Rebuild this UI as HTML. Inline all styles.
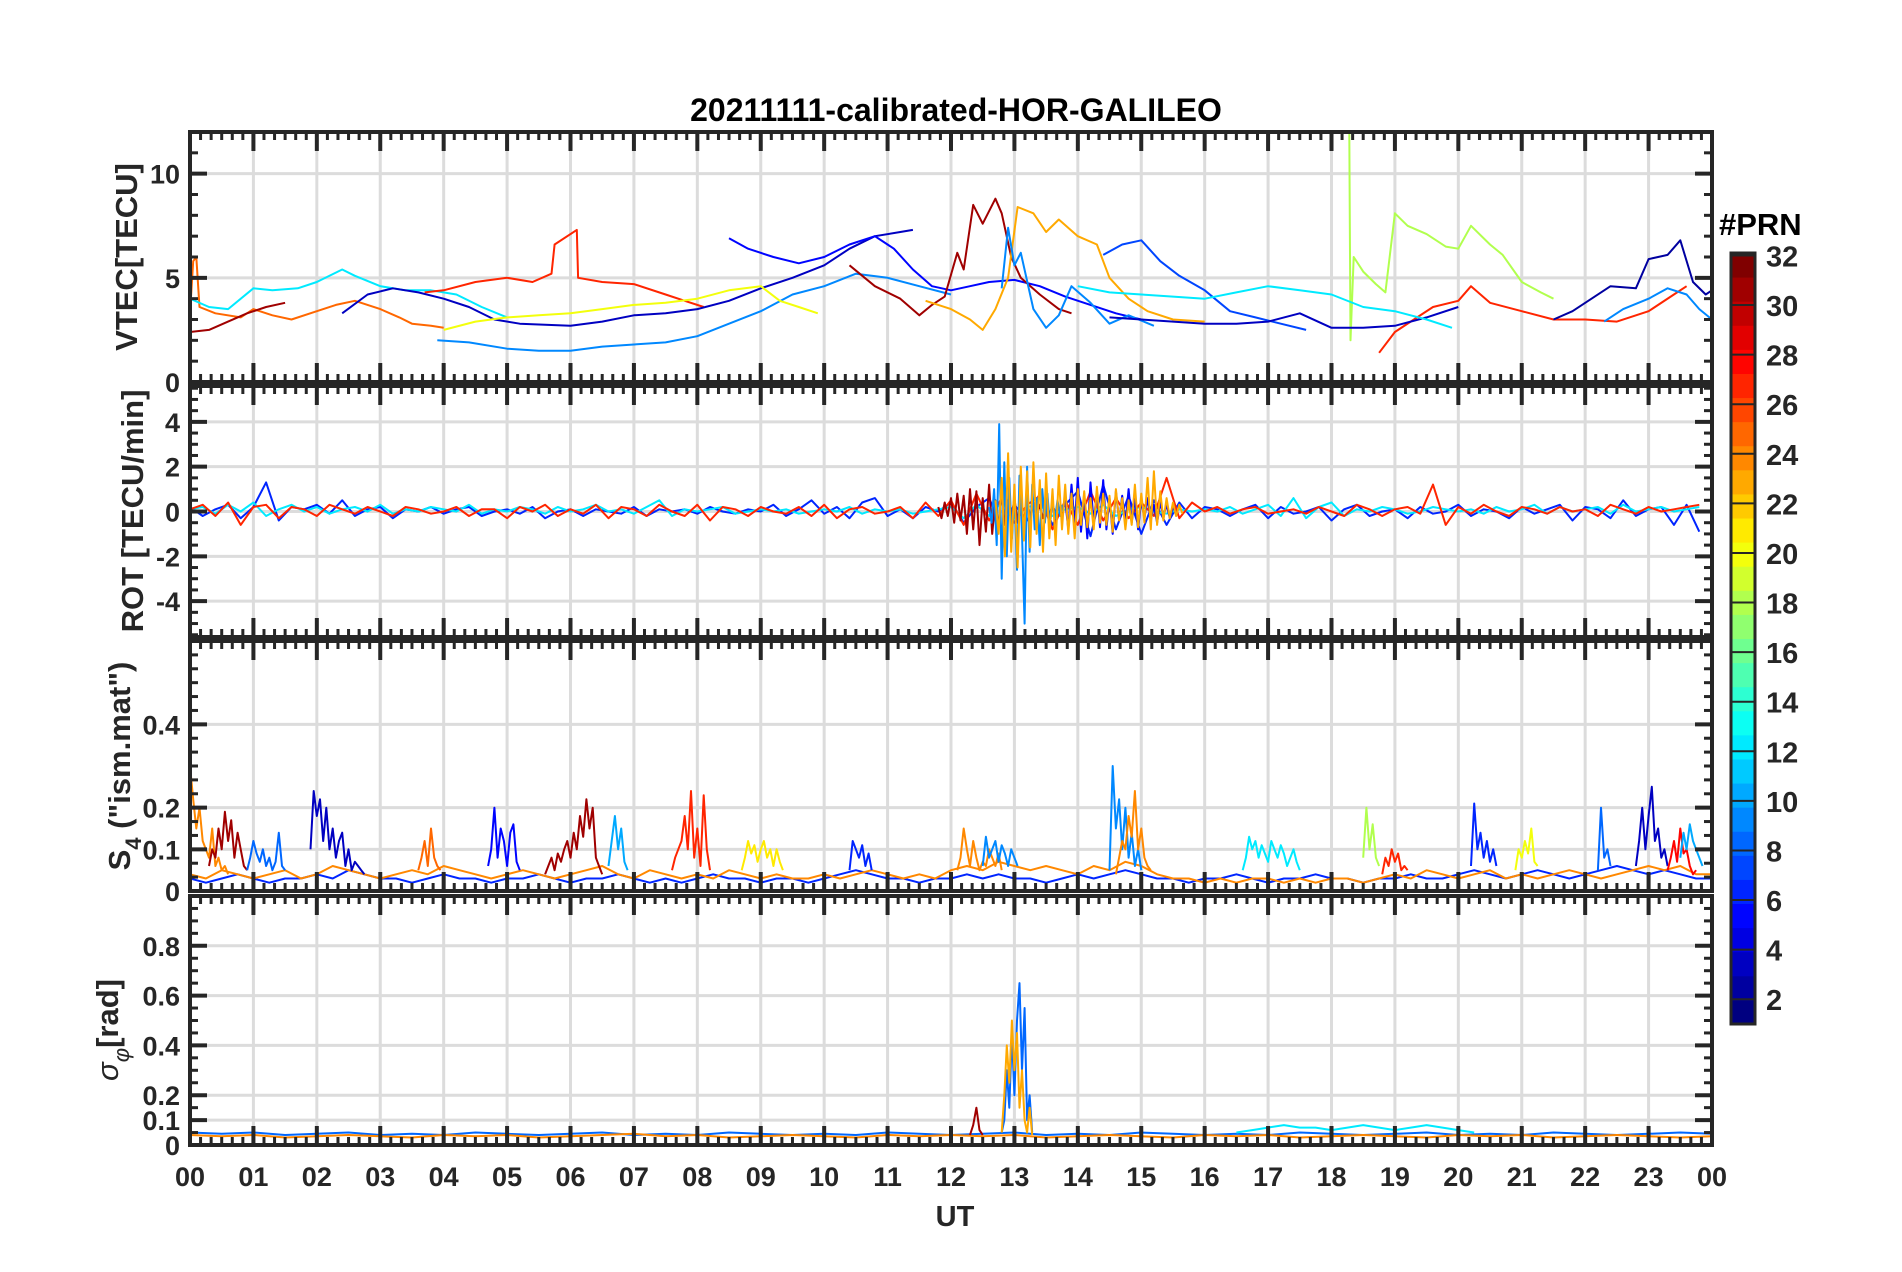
<!DOCTYPE html>
<html><head><meta charset="utf-8"><style>
html,body{margin:0;padding:0;background:#fff;}
svg{display:block;font-family:"Liberation Sans",sans-serif;}
</style></head><body>
<svg id="fig" width="1902" height="1272" viewBox="0 0 1902 1272" xmlns="http://www.w3.org/2000/svg">
<rect width="1902" height="1272" fill="#fff"/>
<text x="956" y="121" text-anchor="middle" font-size="32" font-weight="bold" fill="#000">20211111-calibrated-HOR-GALILEO</text>
<g id="layers"></g>
<text transform="translate(137,257) rotate(-90)" text-anchor="middle" font-size="31" font-weight="bold" fill="#262626">VTEC[TECU]</text>
<text transform="translate(143,511) rotate(-90)" text-anchor="middle" font-size="31" font-weight="bold" fill="#262626">ROT [TECU/min]</text>
<text transform="translate(130,766) rotate(-90)" text-anchor="middle" font-size="31" font-weight="bold" fill="#262626">S<tspan font-size="22" dy="11">4</tspan><tspan dy="-11"> ("ism.mat")</tspan></text>
<text transform="translate(118,1030) rotate(-90)" text-anchor="middle" font-size="31" font-weight="bold" fill="#262626"><tspan font-style="italic" font-weight="normal">σ</tspan><tspan font-size="22" font-style="italic" font-weight="normal" dy="11">φ</tspan><tspan dy="-11">[rad]</tspan></text>
<text x="955" y="1226" text-anchor="middle" font-size="29" font-weight="bold" fill="#262626">UT</text>
<text x="1719" y="235" font-size="31" font-weight="bold" fill="#000">#PRN</text>
</svg>
<script>
// ---- VTEC data: [hour, TECU] ----
const vtecA = [[0,3.3],[0.05,5.8],[0.1,6],[0.15,3.6],[0.4,3.3],[0.8,3.1],[1,3.5],[1.3,3.2],[1.6,3.0],[2,3.4],[2.3,3.7],[2.6,3.9],[3,3.5],[3.3,3.1],[3.5,2.8],[3.8,2.7],[4,2.6]];
const vtecB = [[0,4],[0.3,3.6],[0.6,3.5],[1,4.5],[1.3,4.4],[1.7,4.5],[2,4.8],[2.4,5.4],[2.6,5.1],[3,4.6],[3.4,4.4],[3.8,4.4],[4.2,4.2],[4.6,3.6],[5,3.1]];
const vtecC = [[0,2.4],[0.3,2.5],[0.6,2.9],[0.9,3.3],[1.2,3.6],[1.5,3.8]];
const vtecD = [[3.7,4.3],[4,4.4],[4.5,4.8],[5,5.0],[5.4,4.8],[5.7,5.2],[5.75,6.6],[6.1,7.3],[6.12,5.0],[6.5,4.8],[7,4.7],[7.5,4.2],[7.8,3.9],[8.1,3.6]];
const vtecE = [[2.4,3.3],[2.8,4.2],[3.2,4.5],[3.6,4.3],[4,4.0],[4.4,3.6],[4.8,3.0],[5.2,2.8],[6,2.7],[6.5,2.9],[7,3.2],[7.5,3.3],[8,3.5],[8.5,3.9],[9,4.5],[9.5,5.0],[10,5.6],[10.4,6.4],[10.8,7.0],[11.2,7.2],[11.4,7.3]];
const vtecF = [[3.9,2.0],[4.4,1.9],[5,1.6],[5.5,1.5],[6,1.5],[6.5,1.7],[7,1.8],[7.5,1.9],[8,2.2],[8.5,2.8],[9,3.4],[9.5,4.2],[10,4.6],[10.5,5.2],[11,5.0],[11.5,4.6],[12,4.2]];
const vtecG = [[4,2.5],[4.5,2.9],[5,3.1],[5.5,3.2],[6,3.3],[6.5,3.5],[7,3.7],[7.5,3.8],[8,4.0],[8.5,4.4],[9,4.6],[9.3,3.9],[9.6,3.6],[9.9,3.3]];
const vtecH = [[8.5,6.9],[8.8,6.4],[9.2,6.0],[9.6,5.7],[10,6.0],[10.4,6.6],[10.8,7.0],[11.1,6.4],[11.4,5.4],[11.7,4.6],[12,4.4],[12.3,4.6],[12.6,4.8],[13,4.9],[13.4,4.6],[13.8,4.1],[14.2,3.7],[14.6,3.3],[15,3.0]];
const vtecI = [[10.4,5.6],[10.8,4.6],[11.2,4.0],[11.5,3.2],[11.7,3.7],[11.9,4.1],[12.1,6.2],[12.2,5.4],[12.35,8.5],[12.5,7.6],[12.7,8.8],[12.8,8.1],[12.95,6.0],[13.1,5.0],[13.4,4.2],[13.7,3.5],[13.9,3.3]];
const vtecJ = [[11.6,3.9],[12,3.5],[12.3,3.0],[12.5,2.5],[12.7,3.5],[12.9,5.0],[13.05,8.4],[13.3,8.1],[13.5,7.2],[13.7,7.8],[14,7.0],[14.3,6.6],[14.5,5.0],[14.8,4.0],[15.1,3.4],[15.5,3.0],[16,2.9]];
const vtecK = [[12.8,4.5],[12.9,7.4],[13,5.6],[13.1,6.2],[13.3,3.5],[13.5,2.6],[13.7,3.2],[13.9,4.6],[14.2,3.8],[14.5,2.8],[14.8,3.2],[15.2,2.7]];
const vtecL = [[14.4,6.1],[14.7,6.6],[15,6.8],[15.3,5.8],[15.6,5.1],[16,4.4],[16.4,3.4],[16.8,3.1],[17.2,2.8],[17.6,2.5]];
const vtecM = [[18.28,12],[18.3,2.0],[18.35,6.0],[18.5,5.3],[18.7,4.7],[18.85,4.3],[19,8.1],[19.2,7.5],[19.5,7.1],[19.8,6.5],[20,6.4],[20.2,7.5],[20.5,6.6],[20.7,6.1],[21,4.8],[21.3,4.3],[21.5,4.0]];
const vtecN = [[18.75,1.4],[19,2.4],[19.3,3.0],[19.6,3.6],[20,3.9],[20.2,4.6],[20.5,3.8],[21,3.4],[21.5,3.0],[22,3.0],[22.5,2.9],[23,3.4],[23.4,4.2],[23.6,4.6]];
const vtecO = [[21.5,3.0],[21.8,3.4],[22.1,4.0],[22.4,4.6],[22.8,4.5],[23,5.9],[23.3,6.1],[23.5,6.8],[23.7,4.8],[23.9,4.2],[24,4.4]];
const vtecP = [[22.3,2.9],[22.6,3.5],[23,4.0],[23.3,4.5],[23.6,4.2],[23.8,3.5],[24,3.0]];
const vtecQ = [[14.5,3.1],[15,3.0],[15.5,2.9],[16,2.8],[16.5,2.8],[17,2.9],[17.5,3.3],[18,2.6],[18.5,2.6],[19,2.7],[19.5,3.1],[20,3.6]];
const vtecR = [[14,4.6],[14.5,4.3],[15,4.2],[15.5,4.1],[16,4.0],[16.5,4.3],[17,4.6],[17.5,4.4],[18,4.2],[18.5,3.6],[19,3.4],[19.5,3.0],[19.9,2.6]];
const vtecSeries = [vtecA,vtecB,vtecC,vtecD,vtecE,vtecF,vtecG,vtecH,vtecI,vtecJ,vtecK,vtecL,vtecM,vtecN,vtecO,vtecP,vtecQ,vtecR];
const vtecPrn = [25,12,31,27,3,9,20,5,31,23,9,7,18,27,2,9,3,12];

// ---- ROT data: start hour, step, values ----
const rotRed = [0.1,0.3,-0.2,0.4,-0.6,0.2,0.3,-0.3,0.2,0.1,-0.2,0.3,0.1,-0.1,0.2,0.0,-0.2,0.2,0.1,-0.1,0.0,0.2,-0.2,0.1,0.1,-0.3,0.2,0.0,0.3,-0.2,0.1,-0.1,0.3,-0.3,0.2,0.1,-0.2,0.3,0.0,-0.2,0.3,-0.4,0.2,0.1,-0.2,0.2,0.0,-0.1,0.2,-0.2,0.3,-0.3,0.1,0.2,-0.1,0.0,0.2,-0.3,0.4,-0.2,0.5,-0.6,0.8,-0.4,0.6,-0.5,0.3,0.7,-0.8,0.5,-0.6,0.9,-0.4,0.6,-0.3,0.4,-0.2,1.5,-0.3,0.4,0.0,0.2,-0.1,0.1,0.2,-0.1,0.0,0.1,-0.1,0.2,0.0,-0.2,0.3,0.1,-0.2,0.1,0.2,-0.1,1.2,-0.6,0.2,-0.1,0.3,0.0,-0.2,0.2,0.1,-0.1,0.2,0.0,0.1,-0.2,0.3,0.1,-0.1,0.2,0.0,0.1,0.2,0.3];
const rotBlue = [0.2,-0.2,0.1,0.3,-0.3,0.2,1.3,-0.4,0.2,0.1,0.3,-0.1,0.5,-0.2,0.1,0.2,-0.3,0.1,0.0,0.2,-0.1,0.1,0.2,-0.2,0.0,0.1,-0.1,0.2,-0.3,0.0,0.1,-0.2,0.1,0.0,-0.1,0.2,-0.2,0.1,0.0,0.1,-0.1,0.2,0.0,-0.1,0.1,0.0,0.3,-0.2,0.1,0.5,-0.1,0.2,-0.3,0.4,0.6,-0.2,0.1,-0.3,0.2,0.0,0.4,-0.5,0.2,0.6,-0.7,0.3,-0.4,0.8,-0.6,0.3,0.9,-1.1,1.2,-0.8,0.7,-1.0,0.5,-0.6,0.4,-0.3,0.2,0.1,-0.2,0.1,0.3,-0.3,0.2,-0.1,0.0,0.2,-0.4,0.1,0.3,-0.2,0.0,0.1,-0.3,0.2,-0.1,0.0,0.3,-0.2,0.1,0.0,-0.3,0.2,-0.1,0.1,0.3,-0.4,0.2,0.1,-0.3,0.5,-0.2,0.1,0.2,-0.6,0.3,-0.9];
const rotCyan = [0.1,0.2,-0.1,0.3,0.0,0.4,-0.2,0.1,0.3,0.0,0.2,-0.1,0.1,0.2,0.0,0.3,-0.1,0.1,0.0,0.2,0.1,0.0,0.3,-0.1,0.1,0.0,0.2,0.1,-0.1,0.2,0.0,0.1,0.3,0.0,0.1,-0.1,0.2,0.5,-0.2,0.1,0.0,0.1,0.2,-0.1,0.0,0.1,0.0,0.1,-0.1,0.0,0.1,0.0,0.2,-0.1,0.1,0.0,0.1,-0.1,0.0,0.1,0.2,-0.3,0.3,-0.2,0.4,-0.3,0.2,0.3,-0.2,0.1,0.2,-0.1,0.3,-0.2,0.1,0.2,0.0,-0.1,0.1,0.0,0.1,0.0,0.2,-0.1,0.1,0.3,-0.2,0.6,-0.3,0.2,0.4,-0.2,0.1,0.0,0.2,0.1,-0.1,0.0,0.2,0.1,0.0,0.1,-0.1,0.2,0.0,0.1,0.3,-0.1,0.2,0.0,0.1,0.2,-0.1,0.3,0.0,0.1,0.2,0.0,0.1,0.2];
const rotLightBlue = [0.2,-0.5,1.0,-1.5,3.9,-3.0,2.2,-2.0,1.5,-1.2,0.8,-2.6,1.6,-1.0,-5.0,2.0,-1.8,1.2,-0.8,0.6,-1.5,1.0,-0.5,0.8,-0.6,0.4,-0.3,0.5,-0.2,0.3];
const rotOrange = [0.5,-1.0,1.5,-2.0,2.6,-1.8,1.2,-2.5,2.0,-1.3,1.8,-1.6,2.2,-1.0,1.4,-1.8,1.7,-1.2,1.0,-1.5,1.6,-0.8,1.2,-1.0,0.8,-1.2,1.0,-0.6,0.9,-0.7,0.6,-0.8,1.1,-0.5,0.8,-0.6,0.7,-0.9,1.0,-0.4,0.6,-0.8,0.5,-0.6,1.2,-0.7,0.8,-0.5,1.5,-0.8,1.8,-0.6,0.9,-0.4,0.6,-0.3,0.4,-0.2,0.3,-0.1];
const rotDarkRed = [0.2,-0.3,0.4,-0.2,0.6,-0.5,0.8,-0.4,0.7,-1.0,1.0,-0.8,0.9,-1.5,0.6,-0.9,1.2,-1.0,0.5,-0.7,0.8,-0.6,0.5,-0.4,0.6,-0.5,0.3,-0.4,0.5,-0.3,0.4,-0.2,0.3,-0.3,0.2,-0.2,0.3,-0.1,0.2,-0.1];
const rotBlue5 = [0.5,-0.8,1.2,-0.6,1.5,-0.9,0.8,-1.2,1.3,-0.5,0.9,-0.7,1.4,-0.8,0.6,-1.0,0.9,-0.4,0.7,-0.6,1.0,-0.5,0.6,-0.8,0.5,-0.3,0.6,-0.4,0.3,-0.5,0.4,-0.2,0.3,-0.3,0.2,-0.1];
const rotSeries = [rotBlue,rotCyan,rotRed,rotBlue5,rotDarkRed,rotLightBlue,rotOrange];
const rotPrn = [6,12,27,5,31,9,23];
const rotStart = [0,0,0,13.8,11.8,12.6,12.7];
const rotStep = [0.2,0.2,0.2,0.05,0.05,0.04,0.05];

// ---- S4 data ----
const s4BgOrange = [0.04,0.03,0.05,0.04,0.03,0.04,0.05,0.03,0.04,0.06,0.05,0.04,0.03,0.04,0.05,0.04,0.06,0.05,0.04,0.03,0.04,0.05,0.04,0.03,0.04,0.05,0.06,0.04,0.03,0.05,0.04,0.03,0.04,0.03,0.05,0.04,0.03,0.04,0.03,0.03,0.04,0.03,0.04,0.05,0.04,0.03,0.04,0.03,0.05,0.06,0.05,0.07,0.06,0.05,0.06,0.05,0.04,0.06,0.05,0.07,0.06,0.04,0.03,0.03,0.02,0.03,0.02,0.03,0.03,0.02,0.03,0.02,0.03,0.03,0.02,0.03,0.04,0.03,0.05,0.04,0.03,0.04,0.05,0.03,0.04,0.03,0.04,0.05,0.04,0.03,0.04,0.05,0.06,0.05,0.06,0.04,0.04];
const s4BgBlue = [0.03,0.02,0.03,0.04,0.03,0.02,0.03,0.03,0.04,0.03,0.05,0.04,0.03,0.03,0.02,0.03,0.04,0.03,0.03,0.02,0.03,0.03,0.04,0.03,0.02,0.03,0.03,0.04,0.03,0.02,0.03,0.02,0.03,0.04,0.03,0.03,0.02,0.03,0.03,0.02,0.03,0.04,0.05,0.04,0.03,0.03,0.02,0.03,0.03,0.04,0.03,0.04,0.03,0.03,0.02,0.03,0.04,0.03,0.04,0.05,0.04,0.03,0.03,0.02,0.03,0.03,0.04,0.03,0.02,0.03,0.03,0.04,0.03,0.03,0.02,0.03,0.03,0.04,0.03,0.03,0.04,0.05,0.04,0.03,0.04,0.05,0.04,0.03,0.04,0.05,0.06,0.05,0.04,0.05,0.04,0.03,0.03];
const s4Burst1 = [0.3,0.22,0.15,0.2,0.12,0.1,0.08,0.15,0.06,0.08,0.05,0.06,0.04];
const s4Burst2 = [0.06,0.1,0.08,0.15,0.1,0.19,0.12,0.17,0.08,0.14,0.1,0.06,0.05];
const s4Burst3 = [0.05,0.08,0.12,0.09,0.07,0.1,0.06,0.08,0.05,0.07,0.14,0.06,0.05];
const s4Burst4 = [0.1,0.24,0.18,0.22,0.12,0.2,0.1,0.15,0.08,0.12,0.14,0.06,0.1,0.05,0.07,0.06,0.05,0.04];
const s4Burst5 = [0.05,0.08,0.12,0.06,0.15,0.08,0.06,0.05];
const s4Burst6 = [0.06,0.1,0.2,0.08,0.15,0.12,0.06,0.14,0.16,0.07,0.05];
const s4Burst7 = [0.04,0.06,0.08,0.05,0.09,0.07,0.1,0.12,0.08,0.14,0.1,0.18,0.13,0.22,0.15,0.2,0.08,0.06,0.04];
const s4Burst8 = [0.06,0.12,0.18,0.1,0.15,0.07,0.05];
const s4Burst9 = [0.05,0.08,0.1,0.12,0.18,0.1,0.24,0.08,0.15,0.06,0.23,0.1,0.05];
const s4Burst10 = [0.05,0.08,0.12,0.09,0.11,0.07,0.1,0.12,0.08,0.1,0.06,0.1,0.07,0.05];
const s4Burst11 = [0.05,0.12,0.1,0.08,0.11,0.06,0.09,0.05];
const s4Burst12 = [0.05,0.08,0.15,0.1,0.06,0.12,0.08,0.05,0.07,0.06,0.1,0.08,0.06,0.09,0.05];
const s4Burst13 = [0.06,0.13,0.08,0.1,0.12,0.07,0.11,0.09,0.06,0.1,0.08,0.06];
const s4Burst14 = [0.05,0.3,0.15,0.22,0.1,0.2,0.08,0.14,0.06,0.1,0.05];
const s4Burst15 = [0.04,0.08,0.12,0.1,0.18,0.13,0.24,0.1,0.15,0.08,0.06,0.05];
const s4Burst16 = [0.05,0.08,0.13,0.1,0.12,0.08,0.11,0.09,0.07,0.12,0.1,0.08,0.11,0.09,0.06,0.08,0.1,0.07,0.05];
const s4Burst17 = [0.08,0.2,0.1,0.16,0.08,0.06];
const s4Burst18 = [0.04,0.08,0.06,0.1,0.07,0.09,0.05,0.06,0.05];
const s4Burst19 = [0.06,0.21,0.1,0.14,0.08,0.12,0.07,0.1,0.06];
const s4Burst20 = [0.05,0.1,0.08,0.12,0.09,0.15,0.07,0.06];
const s4Burst21 = [0.05,0.2,0.08,0.1,0.06];
const s4Burst22 = [0.06,0.12,0.2,0.1,0.18,0.25,0.12,0.15,0.08,0.1,0.06];
const s4Burst23 = [0.05,0.08,0.12,0.07,0.15,0.09,0.1,0.06,0.04,0.05];
const s4Burst24 = [0.08,0.14,0.1,0.16,0.12,0.1,0.08,0.06];
const s4Series = [s4BgBlue,s4BgOrange,s4Burst1,s4Burst2,s4Burst3,s4Burst4,s4Burst5,s4Burst6,s4Burst7,s4Burst8,s4Burst9,s4Burst10,s4Burst11,s4Burst12,s4Burst13,s4Burst14,s4Burst15,s4Burst16,s4Burst17,s4Burst18,s4Burst19,s4Burst20,s4Burst21,s4Burst22,s4Burst23,s4Burst24];
const s4Prn = [6,24,24,31,8,3,25,5,31,10,27,21,6,24,9,9,24,12,18,27,6,20,8,3,28,10];
const s4Start = [0,0,0,0.3,0.9,1.9,3.6,4.7,5.6,6.6,7.6,8.7,10.4,12.1,12.5,14.5,14.6,16.6,18.5,18.8,20.2,20.9,22.2,22.8,23.3,23.5];
const s4Step = [0.25,0.25,0.05,0.05,0.05,0.05,0.05,0.05,0.05,0.05,0.05,0.05,0.05,0.05,0.05,0.05,0.05,0.05,0.05,0.05,0.05,0.05,0.05,0.05,0.05,0.05];

// ---- sigma-phi data ----
const sigBgOrange = [0.04,0.035,0.04,0.03,0.035,0.04,0.035,0.03,0.04,0.035,0.04,0.03,0.035,0.04,0.045,0.035,0.04,0.03,0.035,0.04,0.035,0.03,0.04,0.035,0.04,0.035,0.04,0.03,0.035,0.04,0.035,0.03,0.04,0.035,0.04,0.03,0.035,0.04,0.035,0.03,0.04,0.035,0.04,0.03,0.035,0.04,0.035,0.03,0.035];
const sigBgBlue = [0.05,0.045,0.05,0.04,0.045,0.05,0.04,0.045,0.04,0.05,0.045,0.04,0.045,0.05,0.04,0.045,0.04,0.05,0.045,0.04,0.045,0.04,0.05,0.045,0.04,0.045,0.05,0.04,0.045,0.04,0.05,0.045,0.04,0.045,0.04,0.05,0.045,0.04,0.045,0.05,0.04,0.045,0.04,0.05,0.045,0.04,0.045,0.05,0.045];
const sigPeakBlue = [0.05,0.1,0.3,0.15,0.45,0.2,0.5,0.65,0.3,0.55,0.1,0.2,0.05];
const sigPeakOrange = [0.05,0.2,0.4,0.25,0.5,0.3,0.45,0.15,0.3,0.1,0.05,0.15,0.04];
const sigPeakDarkRed = [0.04,0.08,0.15,0.06,0.04];
const sigCyan = [0.05,0.06,0.07,0.08,0.07,0.07,0.06,0.07,0.08,0.07,0.06,0.07,0.08,0.07,0.06,0.05];
const sigSeries = [sigBgBlue,sigCyan,sigBgOrange,sigPeakDarkRed,sigPeakBlue,sigPeakOrange];
const sigPrn = [8,12,24,31,8,23];
const sigStart = [0,16.5,0,12.3,12.8,12.8];
const sigStep = [0.5,0.25,0.5,0.05,0.04,0.04];

// ---- axes ----
const hourLabels = ['00','01','02','03','04','05','06','07','08','09','10','11','12','13','14','15','16','17','18','19','20','21','22','23','00'];
const cbTicks = [2,4,6,8,10,12,14,16,18,20,22,24,26,28,30,32];

const X0 = 190, X1 = 1712;
const xS = h => X0 + (X1 - X0) * h / 24;
const panels = [
 {name:'vtec', top:132, bot:382, min:0, max:12, ticks:[0,5,10], labels:['0','5','10'], minor:1},
 {name:'rot', top:386, bot:637, min:-5.6, max:5.6, ticks:[-4,-2,0,2,4], labels:['-4','-2','0','2','4'], minor:0.5},
 {name:'s4', top:641, bot:891, min:0, max:0.6, ticks:[0,0.1,0.2,0.4], labels:['0','0.1','0.2','0.4'], minor:0.2/6},
 {name:'sigma-phi', top:896, bot:1145, min:0, max:1, ticks:[0,0.1,0.2,0.4,0.6,0.8], labels:['0','0.1','0.2','0.4','0.6','0.8'], minor:0.05}
];
const NS = 'http://www.w3.org/2000/svg';
const layers = document.getElementById('layers');
function mk(tag, attrs, parent){const e=document.createElementNS(NS,tag);for(const k in attrs)e.setAttribute(k,attrs[k]);(parent||layers).appendChild(e);return e;}
function jet(p){const v=(p-1)/31;const c=x=>Math.round(255*Math.max(0,Math.min(1,1.5-Math.abs(4*v-x))));return `rgb(${c(3)},${c(2)},${c(1)})`;}
const defs = mk('defs',{});
panels.forEach((P,i)=>{
  const cp = mk('clipPath',{id:'clip'+i},defs);
  mk('rect',{x:X0,y:P.top,width:X1-X0,height:P.bot-P.top},cp);
  P.y = v => P.bot - (P.bot-P.top)*(v-P.min)/(P.max-P.min);
});
function drawPanelFrame(P,i){
  const g = mk('g',{});
  
  
  for(let h=0;h<=24;h++) mk('line',{x1:xS(h),x2:xS(h),y1:P.top,y2:P.bot,stroke:'#dcdcdc','stroke-width':3},g);
  P.ticks.forEach(t=>mk('line',{x1:X0,x2:X1,y1:P.y(t),y2:P.y(t),stroke:'#dcdcdc','stroke-width':3},g));
}
function drawTicks(P){
  const g = mk('g',{stroke:'#262626'});
  
  
  for(let k=0;k<=144;k++){
    const x=xS(k/6), major=k%6===0, L=major?19:8;
    mk('line',{x1:x,x2:x,y1:P.top,y2:P.top+L,'stroke-width':major?4:3},g);
    mk('line',{x1:x,x2:x,y1:P.bot,y2:P.bot-L,'stroke-width':major?4:3},g);
  }
  const n=Math.round((P.max-P.min)/P.minor);
  for(let k=0;k<=n+1;k++){
    const v=Math.ceil(P.min/P.minor)*P.minor+k*P.minor; if(v>P.max+1e-9)break;
    const y=P.y(v);
    mk('line',{x1:X0,x2:X0+8,y1:y,y2:y,'stroke-width':3},g);
    mk('line',{x1:X1,x2:X1-8,y1:y,y2:y,'stroke-width':3},g);
  }
  P.ticks.forEach((t,j)=>{
    const y=P.y(t);
    mk('line',{x1:X0,x2:X0+17,y1:y,y2:y,'stroke-width':4},g);
    mk('line',{x1:X1,x2:X1-17,y1:y,y2:y,'stroke-width':4},g);
    const tx=mk('text',{x:X0-10,y:y+10,'text-anchor':'end','font-size':27,'font-weight':'bold',fill:'#262626',stroke:'none'},g);
    tx.textContent=P.labels[j];
  });
  const r=mk('rect',{x:X0,y:P.top,width:X1-X0,height:P.bot-P.top,fill:'none','stroke-width':4},g);
  
  
}
function line(pts,P,i,prn,name){
  const d = pts.map((p,k)=>(k?'L':'M')+xS(p[0]).toFixed(1)+' '+P.y(p[1]).toFixed(1)).join('');
  const e = mk('path',{d,fill:'none',stroke:jet(prn),'stroke-width':2,'stroke-linejoin':'round','clip-path':`url(#clip${i})`});
  
  
}
panels.forEach(drawPanelFrame);
vtecSeries.forEach((s,k)=>line(s,panels[0],0,vtecPrn[k],'vtec-line-prn'+vtecPrn[k]));
function stepSeries(arr,start,step){return arr.map((v,k)=>[start+k*step,v]);}
rotSeries.forEach((s,k)=>line(stepSeries(s,rotStart[k],rotStep[k]),panels[1],1,rotPrn[k],'rot-line-prn'+rotPrn[k]));
s4Series.forEach((s,k)=>line(stepSeries(s,s4Start[k],s4Step[k]),panels[2],2,s4Prn[k],'s4-line-prn'+s4Prn[k]));
sigSeries.forEach((s,k)=>line(stepSeries(s,sigStart[k],sigStep[k]),panels[3],3,sigPrn[k],'sigma-phi-line-prn'+sigPrn[k]));
panels.forEach(drawTicks);
hourLabels.forEach((l,h)=>{
  const t=mk('text',{x:xS(h),y:1186,'text-anchor':'middle','font-size':27,'font-weight':'bold',fill:'#262626'});
  
  
  t.textContent=l;
});
// colorbar
const CBX=1731, CBW=24, CBT=253, CBB=1024, CBmin=1, CBmax=32.1;
const cbY = v => CBB - (CBB-CBT)*(v-CBmin)/(CBmax-CBmin);
const cb = mk('g',{});


for(let p=1;p<=32;p++){
  const y0=CBB-(CBB-CBT)*(p-1)/32, y1=CBB-(CBB-CBT)*p/32;
  mk('rect',{x:CBX,y:y1,width:CBW,height:y0-y1+0.5,fill:jet(p)},cb);
}
cbTicks.forEach(t=>{
  const y=cbY(t);
  mk('line',{x1:CBX,x2:CBX+CBW,y1:y,y2:y,stroke:'#262626','stroke-width':2},cb);
  const tx=mk('text',{x:CBX+CBW+11,y:y+11,'font-size':29,'font-weight':'bold',fill:'#262626'},cb);
  
  
  tx.textContent=t;
});
mk('rect',{x:CBX,y:CBT,width:CBW,height:CBB-CBT,fill:'none',stroke:'#262626','stroke-width':3},cb);
</script>
</body></html>
